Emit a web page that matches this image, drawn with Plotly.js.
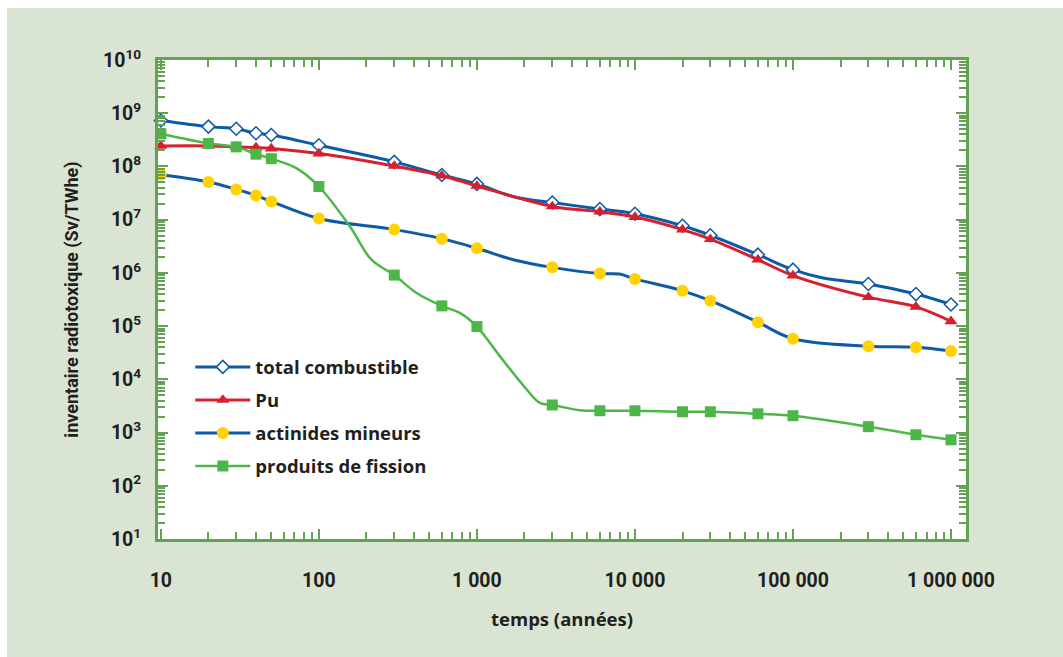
<!DOCTYPE html>
<html><head><meta charset="utf-8">
<script src="https://cdn.plot.ly/plotly-3.0.1.min.js"></script>
<style>
html,body{margin:0;padding:0;background:#ffffff;}
#chart{position:absolute;left:7px;top:8px;width:1056px;height:649px;}
</style>
</head><body><div id="chart"></div>
<script>
// ---- data ----
const times = [10,20,30,40,50,100,300,600,1000,3000,6000,10000,20000,30000,60000,100000,300000,600000,1000000];
const totalCombustible = [7.3e8,5.6e8,5.1e8,4.2e8,3.9e8,2.5e8,1.22e8,6.9e7,4.7e7,2.1e7,1.58e7,1.29e7,7.7e6,5.1e6,2.2e6,1.15e6,6.2e5,4.0e5,2.55e5];
const plutonium = [2.43e8,2.43e8,2.35e8,2.26e8,2.17e8,1.75e8,1.02e8,6.7e7,4.3e7,1.77e7,1.41e7,1.12e7,6.5e6,4.3e6,1.77e6,8.9e5,3.5e5,2.3e5,1.23e5];
const actinidesMineurs = [6.95e7,5.1e7,3.7e7,2.85e7,2.2e7,1.05e7,6.5e6,4.4e6,2.9e6,1.27e6,9.7e5,7.7e5,4.6e5,3.0e5,1.18e5,5.8e4,4.2e4,4.0e4,3.4e4];
const produitsFission = [4.1e8,2.7e8,2.33e8,1.7e8,1.4e8,4.2e7,9.1e5,2.4e5,9.8e4,3.3e3,2.57e3,2.57e3,2.46e3,2.46e3,2.25e3,2.07e3,1.29e3,9.1e2,7.3e2];

// extra curve points between markers (the drawn curves bend between markers)
const totalExtraTimes = [1700,155000];
const totalExtraValues = [2.7e7,8.0e5];
const puExtraTimes = [];
const puExtraValues = [];
const actExtraTimes = [1700,8000];
const actExtraValues = [1.77e6,9.5e5];
const fpExtraTimes = [72,157,215,415,780,1400,2060,2500,4500];
const fpExtraValues = [9.3e7,7.5e6,1.77e6,4.2e5,1.77e5,2.7e4,6.5e3,3.6e3,2.63e3];

const seriesNames = ['total combustible','Pu','actinides mineurs','produits de fission'];

const xTickVals = [10,100,1000,10000,100000,1000000];
const xTickText = ['10','100','1 000','10 000','100 000','1 000 000'];
const yTickVals = [1e1,1e2,1e3,1e4,1e5,1e6,1e7,1e8,1e9,1e10];
const yTickText = ['10<sup>1</sup>','10<sup>2</sup>','10<sup>3</sup>','10<sup>4</sup>','10<sup>5</sup>','10<sup>6</sup>','10<sup>7</sup>','10<sup>8</sup>','10<sup>9</sup>','10<sup>10</sup>'];

// ---- build ----
function merge(t, v, et, ev) {
  const pts = t.map((x,i)=>[x,v[i]]).concat(et.map((x,i)=>[x,ev[i]]));
  pts.sort((a,b)=>a[0]-b[0]);
  return {x: pts.map(p=>p[0]), y: pts.map(p=>p[1])};
}

const BLUE = '#0d5aa7', RED = '#d5212e', YELLOW = '#ffd200', GREEN = '#4cb748';
const AXIS = '#63a153', TEXT = '#231f20';
const FONT = 'Roboto, "DejaVu Sans", sans-serif';
const FONT2 = '"Open Sans", Roboto, sans-serif';

const styles = [
  {line: BLUE, width: 3, marker: {symbol:'diamond', size:10, color:'#ffffff', line:{color:BLUE, width:1.5}}},
  {line: RED, width: 3, marker: {symbol:'triangle-up', size:11.5, color:RED, line:{width:0}}},
  {line: BLUE, width: 3, marker: {symbol:'circle', size:12, color:YELLOW, line:{width:0}}},
  {line: GREEN, width: 2.5, marker: {symbol:'square', size:11, color:GREEN, line:{width:0}}}
];
const values = [totalCombustible, plutonium, actinidesMineurs, produitsFission];
const extraT = [totalExtraTimes, puExtraTimes, actExtraTimes, fpExtraTimes];
const extraV = [totalExtraValues, puExtraValues, actExtraValues, fpExtraValues];

const traces = [];
values.forEach((vals, i) => {
  const c = merge(times, vals, extraT[i], extraV[i]);
  traces.push({x: c.x, y: c.y, mode:'lines', type:'scatter', showlegend:false,
    line:{color: styles[i].line, width: styles[i].width, shape:'spline', smoothing:1},
    cliponaxis:false, hoverinfo:'skip'});
  traces.push({x: times, y: vals, mode:'markers', type:'scatter', showlegend:false,
    marker: styles[i].marker, cliponaxis:false, name: seriesNames[i]});
});
values.forEach((vals, i) => {
  traces.push({x:[null], y:[null], mode:'lines+markers', type:'scatter', name: seriesNames[i],
    legendgroup:'g'+i, line:{color: styles[i].line, width: styles[i].width}, marker: styles[i].marker});
});

const axisCommon = {
  type:'log', showline:true, linecolor:AXIS, linewidth:3, mirror:'ticks',
  ticks:'inside', ticklen:10, tickwidth:2, tickcolor:AXIS, showgrid:false, zeroline:false,
  tickfont:{family:FONT, size:19.5, color:TEXT, weight:'bold'},
  minor:{dtick:'D1', ticks:'inside', ticklen:7, tickwidth:2, tickcolor:AXIS, showgrid:false}
};

const layout = {
  width:1056, height:649,
  paper_bgcolor:'#dae4d3', plot_bgcolor:'#ffffff',
  margin:{l:151, r:97, t:52, b:118},
  showlegend:true,
  legend:{x:0.04, y:0.398, xanchor:'left', yanchor:'top', bgcolor:'rgba(0,0,0,0)',
    font:{family:FONT2, size:18.5, color:TEXT, weight:'bold'}, traceorder:'grouped', tracegroupgap:6,
    itemwidth:55},
  xaxis: Object.assign({}, axisCommon, {
    range:[0.982, 6.095], tickmode:'array', tickvals:xTickVals, ticktext:xTickText,
    ticklabelstandoff:22,
    title:{text:'temps (années)', standoff:22, font:{family:FONT2, size:18.5, color:TEXT, weight:'bold'}}
  }),
  yaxis: Object.assign({}, axisCommon, {
    range:[1, 10], tickmode:'array', tickvals:yTickVals, ticktext:yTickText,
    ticklabelstandoff:10,
    title:{text:'inventaire radiotoxique (Sv/TWhe)', standoff:20, font:{family:FONT, size:18, color:TEXT, weight:'bold'}}
  })
};

Plotly.newPlot('chart', traces, layout, {displayModeBar:false, staticPlot:true});
</script></body></html>
